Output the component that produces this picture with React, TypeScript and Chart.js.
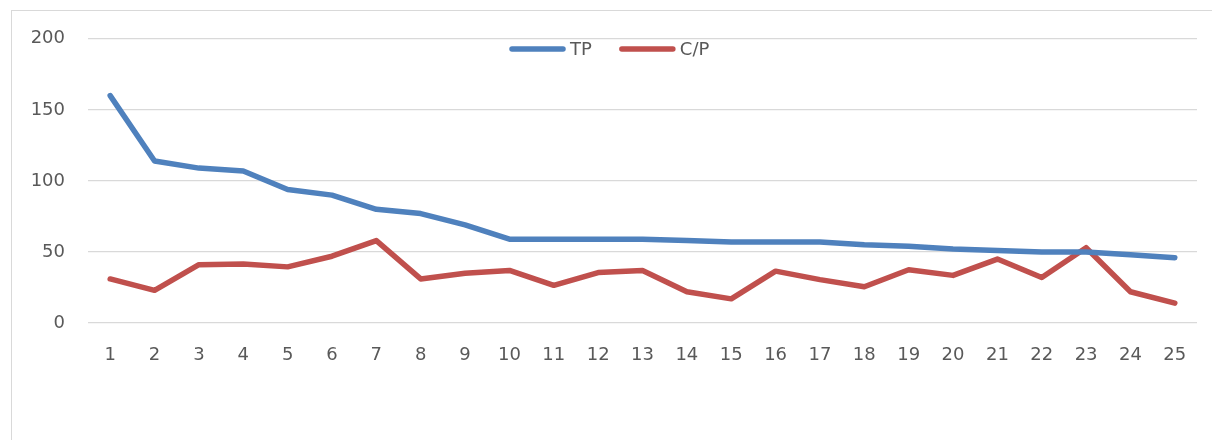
import React, { useEffect, useRef } from "react";
import { Chart, registerables } from "chart.js";

Chart.register(...registerables);

const categories = ["1","2","3","4","5","6","7","8","9","10","11","12","13","14","15","16","17","18","19","20","21","22","23","24","25"];
const tpValues = [160, 114, 109, 107, 94, 90, 80, 77, 69, 59, 59, 59, 59, 58, 57, 57, 57, 55, 54, 52, 51, 50, 50, 48, 46];
const cpValues = [31, 23, 41, 41.5, 39.5, 47, 58, 31, 35, 37, 26.5, 35.5, 37, 22, 17, 36.5, 30.5, 25.5, 37.5, 33.5, 45, 32, 53, 22, 14];
const seriesNames = ["TP", "C/P"];
const yTicks = [0, 50, 100, 150, 200];

const FONT = "'DejaVu Sans', sans-serif";
const TEXT = "#595959";
const LINE_W = 5.5;

const legendPlugin = {
  id: "customLegend",
  afterDraw(chart: any) {
    const ctx = chart.ctx;
    const y = 44;
    let x = 497;
    ctx.save();
    ctx.font = `18px ${FONT}`;
    ctx.textBaseline = "middle";
    ctx.textAlign = "left";
    chart.data.datasets.forEach((ds: any) => {
      ctx.strokeStyle = ds.borderColor;
      ctx.lineWidth = LINE_W;
      ctx.lineCap = "round";
      ctx.beginPath();
      ctx.moveTo(x + 2, y);
      ctx.lineTo(x + 53, y);
      ctx.stroke();
      ctx.fillStyle = TEXT;
      ctx.fillText(ds.label, x + 60, y + 1);
      const w = ctx.measureText(ds.label).width;
      x += 60 + w + 28;
    });
    ctx.restore();
  },
};

export default function App() {
  const ref = useRef<HTMLCanvasElement | null>(null);
  useEffect(() => {
    if (!ref.current) return;
    const chart = new Chart(ref.current, {
      type: "line",
      data: {
        labels: categories,
        datasets: [
          {
            label: seriesNames[0],
            data: tpValues,
            borderColor: "#4F81BD",
            backgroundColor: "#4F81BD",
            borderWidth: LINE_W,
            pointRadius: 0,
            borderCapStyle: "round",
            borderJoinStyle: "round",
            tension: 0,
          },
          {
            label: seriesNames[1],
            data: cpValues,
            borderColor: "#C0504D",
            backgroundColor: "#C0504D",
            borderWidth: LINE_W,
            pointRadius: 0,
            borderCapStyle: "round",
            borderJoinStyle: "round",
            tension: 0,
          },
        ],
      },
      options: {
        animation: false,
        responsive: false,
        maintainAspectRatio: false,
        layout: { padding: { left: 0, right: 15, top: 0, bottom: 57 } },
        plugins: {
          legend: { display: false },
          tooltip: { enabled: false },
        },
        scales: {
          x: {
            offset: true,
            grid: { display: false, drawTicks: false },
            border: { display: false },
            ticks: { color: TEXT, font: { family: FONT, size: 18 }, padding: 22, maxRotation: 0, autoSkip: false },
            afterFit: (s: any) => { s.height = 60; },
          },
          y: {
            min: 0,
            max: 200,
            afterBuildTicks: (s: any) => { s.ticks = yTicks.map((v) => ({ value: v })); },
            grid: { color: "#D9D9D9", lineWidth: 1.3, drawTicks: false },
            border: { display: false },
            ticks: { color: TEXT, font: { family: FONT, size: 18 }, padding: 23 },
            afterFit: (s: any) => { s.width = 75; },
          },
        },
      },
      plugins: [legendPlugin],
    });
    return () => chart.destroy();
  }, []);
  return (
    <div style={{ position: "fixed", left: 0, top: 0, width: 1212, height: 440, background: "#fff", overflow: "hidden" }}>
      <div style={{ position: "absolute", left: 11, top: 10, width: 1240, height: 480, borderTop: "1.5px solid #D9D9D9", borderLeft: "1.5px solid #D9D9D9" }} />
      <canvas ref={ref} width={1199} height={435} style={{ position: "absolute", left: 13, top: 5, width: 1199, height: 435 }} />
    </div>
  );
}
